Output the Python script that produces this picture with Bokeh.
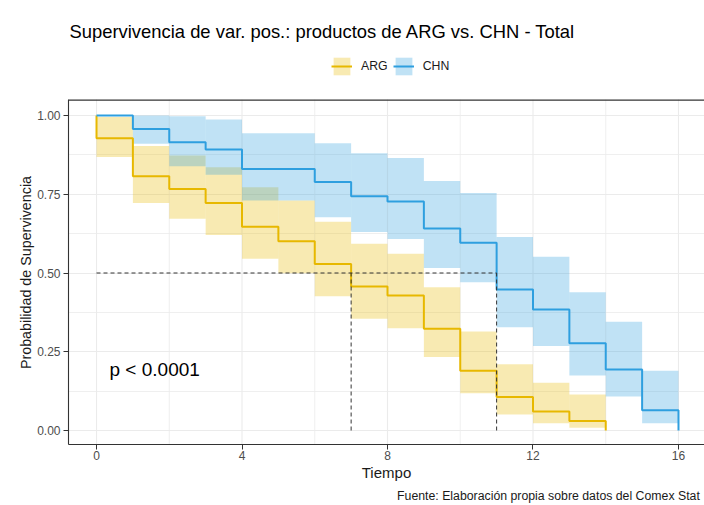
from bokeh.plotting import figure
from bokeh.models import (Legend, LegendItem, FixedTicker, PrintfTickFormatter,
                          LinearAxis, Label)
from bokeh.embed import file_html
from bokeh.resources import INLINE

# ---------------- data ----------------
title_text = "Supervivencia de var. pos.: productos de ARG vs. CHN - Total"
groups = ["ARG", "CHN"]
colors = ["#E7B800", "#2E9FDF"]

arg_time = [0, 1, 2, 3, 4, 5, 6, 7, 8, 9, 10, 11, 12, 13, 14]
arg_surv = [0.928, 0.807, 0.767, 0.722, 0.647, 0.601, 0.529, 0.457, 0.429,
            0.323, 0.190, 0.106, 0.060, 0.030, 0.0]
arg_upper = [0.995, 0.903, 0.873, 0.836, 0.772, 0.730, 0.663, 0.593, 0.561,
             0.455, 0.314, 0.210, 0.152, 0.114]
arg_lower = [0.868, 0.722, 0.672, 0.621, 0.545, 0.499, 0.426, 0.355, 0.325,
             0.233, 0.118, 0.051, 0.023, 0.009]

chn_time = [0, 1, 2, 3, 4, 6, 7, 8, 9, 10, 11, 12, 13, 14, 15, 16]
chn_surv = [1.0, 0.957, 0.915, 0.892, 0.830, 0.789, 0.744, 0.727, 0.641,
            0.596, 0.448, 0.384, 0.277, 0.194, 0.064, 0.0]
chn_upper = [1.0, 1.0, 0.998, 0.987, 0.944, 0.912, 0.880, 0.865, 0.792,
             0.754, 0.614, 0.552, 0.439, 0.345, 0.190]
chn_lower = [1.0, 0.910, 0.839, 0.812, 0.730, 0.677, 0.630, 0.608, 0.516,
             0.471, 0.328, 0.268, 0.175, 0.108, 0.023]

start_surv = 1.0
median_level = 0.5
median_time = [7, 11]

x_ticks = [0, 4, 8, 12, 16]
x_minor = [2, 6, 10, 14]
y_ticks = [0.0, 0.25, 0.5, 0.75, 1.0]
y_minor = [0.125, 0.375, 0.625, 0.875]

x_label = "Tiempo"
y_label = "Probabilidad de Supervivencia"
pval_text = "p < 0.0001"
caption_text = "Fuente: Elaboración propia sobre datos del Comex Stat"

FONT = "Liberation Sans"

# panel limits (data units) and the extra room above the panel for title/legend
X0, X1 = -0.77, 16.715
Y0, Y1 = -0.0444, 1.0508
Y_CANVAS_TOP = 1.3651

# ---------------- figure ----------------
p = figure(width=704, height=505, output_backend="svg", toolbar_location=None,
           title_location=None,
           x_range=(X0, X1), y_range=(Y0, Y_CANVAS_TOP),
           min_border_left=68, min_border_right=0, min_border_top=0,
           min_border_bottom=59)
p.background_fill_color = "white"
p.border_fill_color = "white"
p.outline_line_color = None

# grid: horizontal lines from the library grid, vertical ones limited to the panel
p.xgrid.visible = False
p.ygrid.ticker = FixedTicker(ticks=y_ticks, minor_ticks=y_minor)
p.ygrid.grid_line_color = "#ebebeb"
p.ygrid.grid_line_width = 1.1
p.ygrid.minor_grid_line_color = "#ebebeb"
p.ygrid.minor_grid_line_width = 0.8
p.segment(x0=x_ticks, y0=[Y0] * len(x_ticks), x1=x_ticks, y1=[Y1] * len(x_ticks),
          line_color="#ebebeb", line_width=1.1)
p.segment(x0=x_minor, y0=[Y0] * len(x_minor), x1=x_minor, y1=[Y1] * len(x_minor),
          line_color="#ebebeb", line_width=0.8)

# axes
p.xaxis.ticker = FixedTicker(ticks=x_ticks)
p.yaxis.ticker = FixedTicker(ticks=y_ticks)
p.yaxis.formatter = PrintfTickFormatter(format="%.2f")
p.yaxis.bounds = (Y0, Y1)
for ax in (p.xaxis, p.yaxis):
    ax.axis_line_color = "#333333"
    ax.axis_line_width = 1.1
    ax.major_tick_line_color = "#333333"
    ax.major_tick_out = 5
    ax.major_tick_in = 0
    ax.minor_tick_line_color = None
    ax.major_label_text_font = FONT
    ax.major_label_text_font_size = "12px"
    ax.major_label_text_color = "#4d4d4d"
    ax.axis_label_text_font = FONT
    ax.axis_label_text_font_style = "normal"
    ax.axis_label_text_color = "#1a1a1a"
p.xaxis.major_label_standoff = 1
p.yaxis.major_label_standoff = 3
p.xaxis.axis_label = x_label
# trailing em spaces centre the visible label on the panel rather than the whole frame
p.yaxis.axis_label = y_label + "\u2003" * 7
p.xaxis.axis_label_text_font_size = "15px"
p.yaxis.axis_label_text_font_size = "14.3px"
p.xaxis.axis_label_standoff = 1
p.yaxis.axis_label_standoff = 0

# caption as a second, bare axis below
caption_x = 12.68
cap_axis = LinearAxis(ticker=FixedTicker(ticks=[caption_x]),
                      major_label_overrides={caption_x: caption_text},
                      axis_line_color=None, major_tick_line_color=None,
                      major_tick_out=0, major_tick_in=0,
                      minor_tick_line_color=None, major_label_standoff=5,
                      major_label_text_font=FONT, major_label_text_font_size="12.3px",
                      major_label_text_color="#1a1a1a")
p.add_layout(cap_axis, "below")

# top border of the panel
p.segment(x0=[X0], y0=[Y1 - 0.6 / 315], x1=[X1], y1=[Y1 - 0.6 / 315],
          line_color="#333333", line_width=1.1)

# confidence bands
arg_band = p.quad(left=arg_time[:-1], right=arg_time[1:], top=arg_upper, bottom=arg_lower,
                  fill_color=colors[0], fill_alpha=0.3, line_color=None)
chn_band = p.quad(left=chn_time[:-1], right=chn_time[1:], top=chn_upper, bottom=chn_lower,
                  fill_color=colors[1], fill_alpha=0.3, line_color=None)

# survival curves
arg_line = p.step(x=[arg_time[0]] + arg_time, y=[start_surv] + arg_surv, mode="after",
                  line_color=colors[0], line_width=2)
chn_line = p.step(x=chn_time, y=chn_surv, mode="after",
                  line_color=colors[1], line_width=2)

# median lines
p.segment(x0=[0], y0=[median_level], x1=[max(median_time)], y1=[median_level],
          line_color="#333333", line_width=1, line_dash="4 3")
p.segment(x0=median_time, y0=[0] * len(median_time), x1=median_time,
          y1=[median_level] * len(median_time),
          line_color="#333333", line_width=1, line_dash="4 3")

# legend (above the panel, inside the canvas frame)
legend = Legend(items=[LegendItem(label=groups[0], renderers=[arg_band, arg_line]),
                       LegendItem(label=groups[1], renderers=[chn_band, chn_line])],
                orientation="horizontal", location=(263, 367),
                glyph_width=21, glyph_height=22, label_standoff=9, spacing=5,
                padding=0, margin=0, border_line_color=None, background_fill_alpha=0,
                label_text_font=FONT, label_text_font_size="12.3px",
                label_text_color="#1a1a1a", label_height=22)
p.add_layout(legend)

# title
p.add_layout(Label(x=-0.742, y=1.2667, text=title_text, text_font=FONT,
                   text_font_size="18.4px", text_color="#000000",
                   text_baseline="middle", text_align="left"))

# p-value inside the panel
p.add_layout(Label(x=0.357, y=0.194, text=pval_text, text_font=FONT,
                   text_font_size="19px", text_color="#000000",
                   text_baseline="middle", text_align="left"))

open("out.html", "w").write(file_html(p, INLINE))
